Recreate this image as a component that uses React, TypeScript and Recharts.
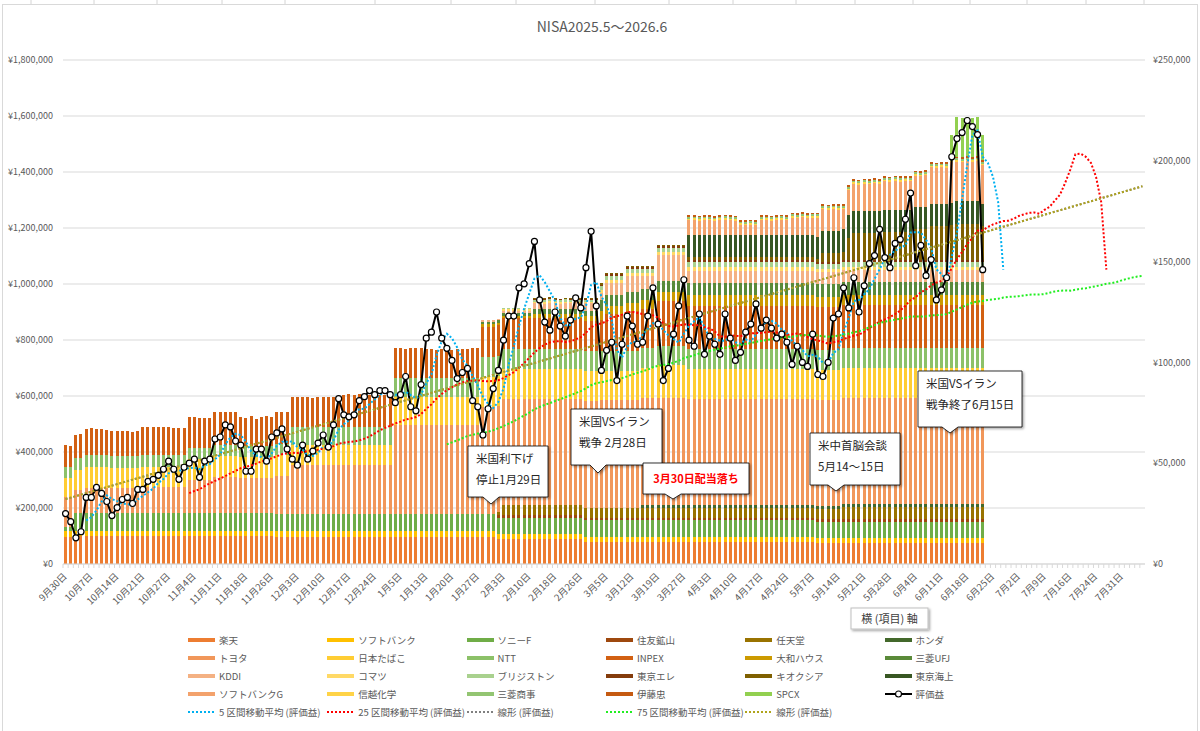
import React from 'react';
import { ComposedChart, Bar, Line, XAxis, YAxis, CartesianGrid } from 'recharts';

const FONT = "'Noto Sans CJK JP', 'Noto Sans', sans-serif";
const GRAY = '#595959';

const TICK_LABELS = [
  '9月30日', '10月7日', '10月14日', '10月21日', '10月27日', '11月4日', '11月11日', '11月18日', '11月26日',
  '12月3日', '12月10日', '12月17日', '12月24日', '1月5日', '1月13日', '1月20日', '1月27日', '2月3日',
  '2月10日', '2月18日', '2月26日', '3月5日', '3月12日', '3月19日', '3月27日', '4月3日', '4月10日',
  '4月17日', '4月24日', '5月7日', '5月14日', '5月21日', '5月28日', '6月4日', '6月11日', '6月18日',
  '6月25日', '7月2日', '7月9日', '7月16日', '7月24日', '7月31日',
];
const CAT_COUNT = TICK_LABELS.length * 5;

// 評価額 (千円) per trading day; series listed from bottom of the stack
const RAKUTEN = [
  97, 97, 99, 99, 99, 99, 99, 99, 99, 99, 99, 99, 99, 99, 99, 99, 99, 99, 99, 99,
  99, 99, 99, 99, 99, 99, 99, 99, 99, 99, 99, 99, 99, 99, 99, 99, 99, 99, 99, 99,
  99, 98, 98, 98, 98, 98, 98, 98, 98, 98, 98, 98, 98, 98, 98, 98, 98, 98, 98, 98,
  98, 98, 98, 98, 98, 98, 98, 98, 98, 98, 98, 98, 98, 98, 98, 98, 98, 98, 98, 98,
  98, 98, 98, 98, 88, 88, 88, 88, 88, 88, 88, 88, 88, 88, 88, 88, 88, 88, 88, 88,
  88, 80, 80, 80, 80, 80, 80, 80, 80, 80, 80, 80, 80, 80, 80, 80, 80, 80, 80, 80,
  80, 80, 80, 80, 80, 80, 80, 80, 80, 80, 80, 80, 80, 80, 80, 80, 80, 80, 80, 80,
  80, 80, 80, 80, 80, 80, 75, 75, 75, 75, 75, 75, 75, 75, 75, 75, 75, 75, 75, 75,
  75, 75, 75, 75, 75, 75, 75, 75, 75, 75, 75, 75, 75, 75, 75, 75, 75, 75, 75,
];
const SOFTBANK = [
  20, 20, 20, 20, 20, 20, 20, 20, 20, 20, 20, 20, 20, 20, 20, 20, 20, 20, 20, 20,
  20, 20, 20, 20, 20, 20, 20, 20, 20, 20, 20, 20, 20, 20, 20, 20, 20, 20, 20, 20,
  20, 20, 20, 20, 20, 20, 20, 20, 20, 20, 20, 20, 20, 20, 20, 20, 20, 20, 20, 20,
  20, 20, 20, 20, 20, 20, 20, 20, 20, 20, 20, 20, 20, 20, 20, 20, 20, 20, 20, 20,
  20, 20, 20, 20, 18, 18, 18, 18, 18, 18, 18, 18, 18, 18, 18, 18, 18, 18, 18, 18,
  18, 18, 18, 18, 18, 18, 18, 18, 18, 18, 18, 18, 18, 18, 18, 18, 18, 18, 18, 18,
  18, 18, 18, 18, 18, 18, 18, 18, 18, 18, 18, 18, 18, 18, 18, 18, 18, 18, 18, 18,
  18, 18, 18, 18, 18, 18, 18, 18, 18, 18, 18, 18, 18, 18, 18, 18, 18, 18, 18, 18,
  18, 18, 18, 18, 18, 18, 18, 18, 18, 18, 18, 18, 18, 18, 18, 18, 18, 18, 18,
];
const SONYF = [
  15, 15, 62, 62, 62, 62, 62, 62, 62, 62, 62, 62, 62, 62, 62, 62, 62, 62, 62, 62,
  62, 62, 62, 62, 62, 62, 62, 62, 62, 62, 62, 62, 62, 62, 62, 62, 62, 62, 62, 62,
  62, 62, 62, 62, 62, 62, 62, 62, 62, 62, 62, 62, 62, 62, 62, 62, 62, 62, 62, 62,
  62, 62, 62, 62, 62, 62, 62, 62, 62, 62, 62, 62, 62, 62, 62, 62, 62, 62, 62, 62,
  62, 62, 62, 62, 58, 58, 58, 58, 58, 58, 58, 58, 58, 58, 58, 58, 58, 58, 58, 58,
  58, 58, 58, 58, 58, 58, 58, 58, 58, 58, 58, 58, 58, 58, 58, 58, 58, 58, 58, 58,
  58, 58, 58, 58, 58, 58, 58, 58, 58, 58, 58, 58, 58, 58, 58, 58, 58, 58, 58, 58,
  58, 58, 58, 58, 58, 58, 58, 58, 58, 58, 58, 58, 58, 58, 58, 58, 58, 58, 58, 58,
  58, 58, 58, 58, 58, 58, 58, 58, 58, 58, 58, 58, 58, 58, 58, 58, 58, 58, 58,
];
// from day 84
const SUMITOMO = [
  10, 10, 10, 10, 10, 10, 10, 10, 10, 10, 10, 10, 10, 10, 10, 10, 10, 10, 10, 10,
  10, 10, 10, 10, 10, 10, 10, 10, 10, 10, 10, 10, 10, 10, 10, 10, 10, 10, 10, 10,
  10, 10, 10, 10, 10, 10, 10, 10, 10, 10, 10, 10, 10, 10, 10, 10, 10, 10, 10, 10,
  10, 10, 10, 10, 10, 10, 10, 10, 10, 10, 10, 10, 10, 10, 10, 10, 10, 10, 10, 10,
  10, 10, 10, 10, 10, 10, 10, 10, 10, 10, 10, 10, 10, 10, 10,
];
// from day 84
const NINTENDO = [
  12, 35, 35, 35, 35, 35, 35, 35, 35, 35, 35, 35, 35, 35, 35, 35, 35, 35, 35, 35,
  35, 35, 35, 35, 35, 35, 35, 35, 35, 35, 35, 35, 35, 35, 35, 35, 35, 35, 35, 35,
  35, 35, 35, 35, 35, 35, 35, 35, 35, 35, 35, 35, 35, 35, 35, 35, 35, 35, 35, 35,
  35, 35, 35, 35, 35, 35, 35, 42, 42, 42, 42, 42, 42, 42, 42, 42, 42, 42, 42, 42,
  42, 42, 42, 42, 42, 42, 42, 42, 42, 42, 42, 42, 42, 42, 42,
];
// from day 112
const HONDA = [
  10, 10, 10, 10, 10, 10, 10, 10, 10, 10, 10, 10, 10, 10, 10, 10, 10, 10, 10, 10,
  10, 10, 10, 10, 10, 10, 10, 10, 10, 10, 10, 10, 10, 10, 10, 10, 10, 10, 10, 10,
  10, 10, 10, 10, 10, 10, 10, 10, 10, 10, 10, 10, 10, 10, 10, 10, 10, 10, 10, 10,
  10, 10, 10, 10, 10, 10, 10,
];
const TOYOTA = [
  108, 108, 84, 84, 92, 92, 92, 92, 92, 90, 90, 90, 90, 90, 90, 95, 95, 95, 95, 95,
  95, 95, 95, 95, 120, 120, 120, 120, 120, 130, 130, 130, 130, 130, 125, 125, 125, 125, 125, 125,
  125, 135, 135, 135, 175, 175, 175, 175, 175, 175, 175, 175, 175, 175, 175, 175, 175, 175, 175, 175,
  175, 175, 175, 175, 318, 318, 318, 318, 318, 318, 318, 318, 318, 318, 318, 318, 318, 318, 318, 318,
  318, 380, 380, 380, 380, 380, 380, 380, 380, 380, 380, 380, 380, 380, 380, 380, 380, 380, 380, 380,
  380, 380, 380, 380, 383, 383, 383, 383, 383, 383, 383, 383, 383, 383, 383, 383, 383, 383, 383, 383,
  383, 380, 380, 380, 380, 380, 380, 380, 380, 380, 380, 380, 380, 380, 380, 380, 380, 380, 380, 380,
  380, 380, 380, 380, 380, 380, 380, 380, 380, 380, 380, 380, 380, 380, 380, 380, 380, 380, 380, 380,
  380, 380, 380, 380, 380, 380, 380, 380, 380, 380, 380, 380, 380, 380, 380, 380, 380, 380, 380,
];
const JT = [
  68, 68, 71, 71, 72, 72, 72, 72, 72, 72, 72, 72, 72, 72, 72, 72, 72, 72, 72, 72,
  72, 72, 72, 72, 75, 75, 75, 75, 75, 75, 75, 75, 75, 75, 75, 75, 75, 75, 75, 75,
  75, 75, 75, 75, 71, 71, 71, 71, 71, 71, 71, 71, 71, 71, 71, 71, 71, 71, 71, 71,
  71, 71, 71, 71, 100, 100, 100, 100, 100, 100, 100, 100, 100, 100, 100, 100, 100, 100, 100, 100,
  100, 107, 107, 107, 107, 107, 107, 107, 107, 107, 107, 107, 107, 107, 107, 107, 107, 107, 107, 107,
  107, 107, 107, 107, 107, 107, 107, 107, 107, 107, 107, 107, 107, 107, 107, 115, 115, 115, 115, 115,
  115, 107, 107, 107, 107, 107, 107, 107, 107, 107, 107, 107, 107, 107, 107, 107, 107, 107, 107, 107,
  107, 107, 107, 107, 107, 107, 107, 107, 107, 107, 107, 107, 107, 107, 107, 107, 107, 107, 107, 107,
  107, 107, 107, 107, 107, 107, 107, 107, 107, 107, 107, 107, 107, 107, 107, 107, 107, 107, 107,
];
const NTT = [
  38, 38, 43, 43, 43, 43, 43, 43, 43, 43, 43, 43, 43, 43, 43, 43, 43, 43, 43, 43,
  43, 43, 43, 43, 40, 40, 40, 40, 40, 40, 40, 40, 40, 40, 40, 40, 40, 40, 40, 40,
  40, 40, 40, 40, 64, 64, 64, 64, 64, 64, 64, 64, 64, 64, 64, 64, 64, 64, 64, 64,
  64, 64, 64, 64, 68, 68, 68, 68, 68, 68, 68, 68, 68, 68, 68, 68, 68, 68, 68, 68,
  68, 71, 71, 71, 71, 71, 71, 71, 71, 71, 71, 71, 71, 71, 71, 71, 71, 71, 71, 71,
  71, 71, 71, 71, 71, 71, 71, 71, 71, 71, 71, 71, 71, 71, 71, 71, 71, 71, 71, 71,
  71, 71, 71, 71, 71, 71, 71, 71, 71, 71, 71, 71, 71, 71, 71, 71, 71, 71, 71, 71,
  71, 71, 71, 71, 71, 71, 71, 71, 71, 71, 71, 71, 71, 71, 71, 71, 71, 71, 71, 71,
  71, 71, 71, 71, 71, 71, 71, 71, 71, 71, 71, 71, 71, 71, 71, 71, 71, 71, 71,
];
const INPEX = [
  79, 76, 82, 84, 94, 96, 93, 95, 92, 89, 88, 90, 89, 87, 90, 97, 98, 99, 98, 97,
  99, 95, 96, 94, 110, 110, 105, 105, 105, 117, 118, 116, 117, 118, 104, 100, 106, 98, 104, 107,
  103, 113, 114, 112, 106, 105, 107, 106, 104, 106, 107, 105, 106, 108, 114, 116, 115, 117, 113, 115,
  116, 114, 115, 117, 104, 105, 103, 106, 104, 105, 103, 101, 100, 102, 101, 100, 102, 101, 103, 104,
  105, 110, 110, 110, 110, 110, 110, 110, 110, 110, 110, 110, 110, 110, 110, 110, 110, 110, 110, 110,
  110, 110, 110, 110, 110, 130, 130, 130, 130, 140, 140, 140, 140, 140, 140, 160, 160, 160, 160, 160,
  160, 154, 154, 154, 154, 154, 154, 154, 154, 154, 154, 154, 154, 154, 154, 154, 154, 154, 154, 154,
  154, 154, 154, 154, 154, 154, 154, 154, 154, 154, 154, 154, 154, 154, 154, 154, 154, 154, 154, 154,
  154, 154, 154, 154, 154, 154, 154, 154, 154, 154, 154, 154, 154, 154, 154, 154, 154, 154, 154,
];
// from day 81
const DAIWA = [
  8, 8, 8, 8, 8, 8, 8, 8, 8, 8, 15, 15, 15, 15, 15, 15, 15, 15, 15, 15,
  15, 15, 15, 30, 30, 30, 30, 30, 30, 30, 30, 30, 30, 30, 30, 30, 30, 30, 30, 30,
  36, 36, 36, 36, 36, 36, 36, 36, 36, 36, 36, 36, 36, 36, 36, 36, 36, 36, 36, 36,
  36, 36, 36, 36, 36, 36, 36, 36, 36, 36, 36, 36, 36, 36, 36, 36, 36, 36, 36, 36,
  36, 36, 36, 36, 36, 36, 36, 36, 36, 36, 36, 36, 36, 36, 36, 36, 36, 36,
];
// from day 81
const MUFG = [
  10, 10, 10, 10, 10, 10, 10, 10, 10, 10, 20, 20, 20, 20, 20, 20, 20, 20, 20, 20,
  20, 20, 20, 40, 40, 40, 40, 40, 40, 40, 40, 40, 40, 40, 40, 40, 40, 40, 40, 40,
  46, 46, 46, 46, 46, 46, 46, 46, 46, 46, 46, 46, 46, 46, 46, 46, 46, 46, 46, 46,
  46, 46, 46, 46, 46, 46, 46, 46, 46, 46, 46, 46, 46, 46, 46, 46, 46, 46, 46, 46,
  46, 46, 46, 46, 46, 46, 46, 46, 46, 46, 46, 46, 46, 46, 46, 46, 46, 46,
];
// from day 81
const KDDI = [
  5, 5, 5, 3, 10, 10, 10, 10, 10, 10, 19, 20, 18, 21, 19, 17, 20, 19, 22, 18,
  27, 27, 27, 25, 43, 43, 43, 43, 58, 58, 58, 48, 48, 48, 95, 95, 95, 95, 95, 95,
  43, 43, 43, 43, 43, 43, 43, 43, 43, 43, 43, 43, 43, 43, 43, 43, 43, 43, 43, 43,
  43, 43, 43, 43, 43, 43, 43, 43, 43, 43, 43, 43, 43, 43, 43, 43, 43, 43, 43, 43,
  43, 43, 43, 43, 43, 43, 43, 43, 43, 43, 43, 43, 43, 43, 43, 43, 43, 43,
];
// from day 85
const KOMATSU = [
  5, 5, 5, 5, 5, 5, 5, 5, 5, 5, 5, 5, 5, 5, 5, 5, 5, 5, 5, 10,
  10, 10, 10, 10, 10, 10, 10, 10, 10, 10, 10, 10, 10, 10, 10, 10, 11, 11, 11, 11,
  11, 11, 11, 11, 11, 11, 11, 11, 11, 11, 11, 11, 11, 11, 11, 11, 11, 11, 11, 11,
  11, 11, 11, 11, 11, 11, 11, 11, 11, 11, 11, 11, 11, 11, 11, 11, 11, 11, 11, 11,
  11, 11, 11, 11, 11, 11, 11, 11, 11, 11, 11, 11, 11, 11,
];
// from day 85
const BRIDGESTONE = [
  5, 5, 5, 5, 5, 5, 8, 8, 8, 8, 8, 8, 8, 8, 8, 8, 8, 8, 8, 15,
  15, 15, 15, 15, 15, 15, 15, 15, 15, 15, 15, 15, 15, 15, 15, 15, 18, 18, 18, 18,
  18, 18, 18, 18, 18, 18, 18, 18, 18, 18, 18, 18, 18, 18, 18, 18, 18, 18, 18, 18,
  18, 18, 18, 18, 18, 18, 18, 18, 18, 18, 18, 18, 18, 18, 18, 18, 18, 18, 18, 18,
  18, 18, 18, 18, 18, 18, 18, 18, 18, 18, 18, 18, 18, 18,
];
// from day 91
const TEL = [
  3, 3, 3, 3, 3, 3, 3, 3, 3, 3, 3, 3, 3, 5, 5, 5, 5, 5, 5, 5,
  5, 5, 5, 5, 5, 5, 5, 5, 5, 5, 7, 7, 7, 7, 7, 7, 7, 7, 7, 7,
  7, 7, 7, 7, 7, 7, 7, 7, 7, 7, 7, 7, 7, 7, 7, 7, 7, 7, 7, 7,
  7, 7, 7, 7, 7, 7, 7, 7, 7, 7, 7, 7, 7, 7, 7, 7, 7, 7, 7, 7,
  7, 7, 7, 7, 7, 7, 7, 7,
];
// from day 91
const KIOXIA = [
  3, 3, 3, 3, 3, 3, 3, 3, 3, 3, 3, 3, 3, 5, 5, 5, 5, 5, 5, 5,
  5, 5, 5, 5, 5, 5, 5, 5, 5, 5, 11, 11, 11, 11, 11, 11, 11, 11, 11, 11,
  11, 11, 11, 11, 11, 11, 11, 11, 11, 11, 11, 11, 11, 11, 11, 11, 30, 30, 30, 30,
  30, 80, 95, 95, 95, 95, 95, 95, 100, 100, 100, 100, 100, 100, 110, 110, 110, 120, 120, 120,
  120, 125, 130, 130, 130, 130, 130, 120,
];
// from day 121
const TOKIO = [
  79, 79, 79, 79, 79, 79, 79, 79, 79, 79, 79, 79, 79, 79, 79, 79, 79, 79, 79, 79,
  79, 79, 79, 79, 79, 79, 79, 79, 79, 79, 79, 79, 79, 79, 79, 79, 79, 79, 79, 79,
  79, 79, 79, 79, 79, 79, 79, 79, 79, 79, 79, 79, 79, 79, 79, 79, 79, 79,
];
// from day 121
const SBG = [
  53, 55, 52, 54, 53, 51, 54, 56, 53, 52, 37, 35, 38, 36, 53, 55, 52, 54, 56, 53,
  63, 61, 64, 62, 63, 68, 79, 77, 80, 78, 72, 90, 97, 95, 98, 96, 99, 97, 102, 100,
  104, 101, 103, 102, 112, 110, 113, 132, 130, 133, 131, 144, 142, 140, 143, 141, 144, 139,
];
// from day 121
const SHINETSU = [
  6, 6, 6, 6, 6, 6, 6, 6, 6, 6, 6, 6, 6, 6, 6, 6, 6, 6, 6, 6,
  6, 6, 6, 6, 6, 6, 6, 6, 6, 6, 6, 6, 6, 6, 6, 6, 6, 6, 6, 6,
  6, 6, 6, 6, 6, 6, 6, 6, 6, 6, 6, 6, 6, 6, 6, 6, 6, 6,
];
const MITSUBISHI = [
  6, 6, 6, 6, 6, 6, 6, 6, 6, 6, 6, 6, 6, 6, 6, 6, 6, 6, 6, 6,
  6, 6, 6, 6, 6, 6, 6, 6, 6, 6, 6, 6, 6, 6, 6, 6, 6, 6, 6, 6,
  6, 6, 6, 6, 6, 6, 6, 6, 6, 6, 6, 6, 6, 6, 6, 6, 6, 6,
];
const ITOCHU = [
  6, 6, 6, 6, 6, 6, 6, 6, 6, 6, 6, 6, 6, 6, 6, 6, 6, 6, 6, 6,
  6, 6, 6, 6, 6, 6, 6, 6, 6, 6, 6, 6, 6, 6, 6, 6, 6, 6, 6, 6,
  6, 6, 6, 6, 6, 6, 6, 6, 6, 6, 6, 6, 6, 6, 6, 6, 6, 6,
];
// from day 172
const SPCX = [80, 140, 140, 140, 140, 140, 90];

// 評価益 (千円), right axis
const HYOUKA = [
  25, 21, 13, 16, 33, 33, 38, 35, 31, 24, 28, 32, 33, 30, 37, 37, 41, 42, 44, 47,
  51, 47, 42, 48, 50, 52, 43, 51, 52, 62, 63, 69, 68, 61, 59, 46, 46, 57, 57, 51,
  63, 65, 67, 57, 52, 49, 59, 52, 56, 60, 64, 58, 69, 82, 74, 73, 74, 81, 83, 86,
  84, 86, 86, 84, 80, 84, 93, 78, 76, 89, 112, 115, 125, 112, 107, 101, 92, 95, 97, 81,
  78, 64, 77, 87, 96, 111, 123, 123, 137, 139, 149, 160, 131, 120, 116, 125, 118, 113, 121, 132,
  127, 147, 165, 128, 96, 106, 110, 91, 109, 123, 118, 109, 110, 123, 137, 119, 91, 97, 114, 128,
  141, 111, 108, 124, 104, 113, 109, 104, 124, 112, 101, 105, 115, 119, 129, 117, 121, 117, 112, 114,
  110, 99, 108, 100, 98, 114, 94, 93, 100, 122, 124, 137, 127, 142, 125, 138, 149, 153, 166, 152,
  147, 159, 161, 171, 184, 148, 158, 143, 151, 131, 136, 142, 202, 211, 214, 220, 217, 213, 146,
];

const STOCKS = [
  { name: '楽天', color: '#ED7D31', from: 0, data: RAKUTEN },
  { name: 'ソフトバンク', color: '#FFC000', from: 0, data: SOFTBANK },
  { name: 'ソニーF', color: '#70AD47', from: 0, data: SONYF },
  { name: '住友鉱山', color: '#9E480E', from: 84, data: SUMITOMO },
  { name: '任天堂', color: '#997300', from: 84, data: NINTENDO },
  { name: 'ホンダ', color: '#43682B', from: 112, data: HONDA },
  { name: 'トヨタ', color: '#F1975A', from: 0, data: TOYOTA },
  { name: '日本たばこ', color: '#FFCD33', from: 0, data: JT },
  { name: 'NTT', color: '#8CC168', from: 0, data: NTT },
  { name: 'INPEX', color: '#D26012', from: 0, data: INPEX },
  { name: '大和ハウス', color: '#CC9A00', from: 81, data: DAIWA },
  { name: '三菱UFJ', color: '#5A8A39', from: 81, data: MUFG },
  { name: 'KDDI', color: '#F4B183', from: 81, data: KDDI },
  { name: 'コマツ', color: '#FFD966', from: 85, data: KOMATSU },
  { name: 'ブリジストン', color: '#A9D18E', from: 85, data: BRIDGESTONE },
  { name: '東京エレ', color: '#843C0C', from: 91, data: TEL },
  { name: 'キオクシア', color: '#7F6000', from: 91, data: KIOXIA },
  { name: '東京海上', color: '#385723', from: 121, data: TOKIO },
  { name: 'ソフトバンクG', color: '#F3A26C', from: 121, data: SBG },
  { name: '信越化学', color: '#FFD347', from: 121, data: SHINETSU },
  { name: '三菱商事', color: '#93C572', from: 121, data: MITSUBISHI },
  { name: '伊藤忠', color: '#C55A11', from: 121, data: ITOCHU },
  { name: 'SPCX', color: '#92D050', from: 172, data: SPCX },
];

const TRENDS = [
  { key: 'ma5', name: '5 区間移動平均 (評価益)', color: '#00B0F0' },
  { key: 'ma25', name: '25 区間移動平均 (評価益)', color: '#FF0000' },
  { key: 'linGray', name: '線形 (評価益)', color: '#808080' },
  { key: 'ma75', name: '75 区間移動平均 (評価益)', color: '#22EE22' },
  { key: 'linOlive', name: '線形 (評価益)', color: '#B0A41C' },
];

// trendlines as Excel derives them from the 評価益 series
const movingAverage = (n: number) =>
  Array.from({ length: CAT_COUNT }, (_, i) => {
    if (i < n - 1) return null;
    let sum = 0;
    let cnt = 0;
    for (let j = i - n + 1; j <= i; j++) {
      if (HYOUKA[j] != null) {
        sum += HYOUKA[j];
        cnt++;
      }
    }
    return cnt ? (sum / cnt) * 1000 : null;
  });

const fit = (() => {
  const n = HYOUKA.length;
  let sx = 0, sy = 0, sxx = 0, sxy = 0;
  HYOUKA.forEach((v, i) => { sx += i; sy += v; sxx += i * i; sxy += i * v; });
  const b = (n * sxy - sx * sy) / (n * sxx - sx * sx);
  return { a: (sy - b * sx) / n, b };
})();

const MA5 = movingAverage(5);
const MA25 = movingAverage(25);
const MA75 = movingAverage(75);

const ROWS = Array.from({ length: CAT_COUNT }, (_, i) => {
  const row: any = { i };
  STOCKS.forEach((s, k) => {
    const v = s.data[i - s.from];
    if (v !== undefined) row['s' + k] = v * 1000;
  });
  row.hy = i < HYOUKA.length ? HYOUKA[i] * 1000 : null;
  row.ma5 = MA5[i];
  row.ma25 = MA25[i];
  row.ma75 = MA75[i];
  row.linGray = (fit.a + fit.b * i) * 1000;
  row.linOlive = row.linGray;
  return row;
});

const CALLOUTS = [
  { x: 468, y: 446, w: 80, h: 51, tip: [491, 504], base: [483, 499], lines: ['米国利下げ', '停止1月29日'] },
  { x: 571, y: 409, w: 91, h: 56, tip: [598, 473], base: [590, 606], lines: ['米国VSイラン', '戦争 2月28日'] },
  { x: 643, y: 463, w: 106, h: 31, tip: [673, 499], base: [665, 681], lines: ['3月30日配当落ち'], red: true },
  { x: 810, y: 433, w: 90, h: 52, tip: [836, 491], base: [828, 844], lines: ['米中首脳会談', '5月14〜15日'] },
  { x: 918, y: 371, w: 104, h: 56, tip: [950, 433], base: [942, 958], lines: ['米国VSイラン', '戦争終了6月15日'] },
];

const yen = (v: number) => '¥' + v.toLocaleString('en-US');

const CategoryTick = (props: any) => {
  const { x, y, payload } = props;
  const idx = payload.value;
  const lx = x + 2;
  const ly = y + 13;
  return (
    <g>
      <line x1={x - 2.58} x2={x - 2.58} y1={y} y2={y + 4} stroke="#D9D9D9" />
      {idx % 5 === 0 && (
        <text x={lx} y={ly} textAnchor="end" fontSize={9.5} fill={GRAY} fontFamily={FONT}
          transform={`rotate(-45 ${lx} ${ly})`}>
          {TICK_LABELS[idx / 5]}
        </text>
      )}
    </g>
  );
};

const LEGEND_ITEMS = [
  ...STOCKS.map((s) => ({ name: s.name, color: s.color, kind: 'bar' })),
  { name: '評価益', color: '#000', kind: 'marker' },
  ...TRENDS.map((t) => ({ name: t.name, color: t.color, kind: 'dot' })),
];

function LegendBlock() {
  return (
    <>
      {LEGEND_ITEMS.map((it, k) => {
        const row = Math.floor(k / 6);
        const col = k % 6;
        return (
          <div key={k} style={{
            position: 'absolute', left: 188 + col * 139.3, top: 633 + row * 18.1, height: 14,
            display: 'flex', alignItems: 'center', whiteSpace: 'nowrap',
            fontFamily: FONT, fontSize: 9.5, color: GRAY,
          }}>
            <svg width={28} height={10}>
              {it.kind === 'bar' && <rect x={0} y={3} width={27} height={4} fill={it.color} />}
              {it.kind === 'dot' && <line x1={0} x2={27} y1={5} y2={5} stroke={it.color} strokeWidth={2} strokeDasharray="2 2" />}
              {it.kind === 'marker' && (
                <>
                  <line x1={0} x2={27} y1={5} y2={5} stroke="#000" strokeWidth={2} />
                  <circle cx={13.5} cy={5} r={3} fill="#fff" stroke="#000" strokeWidth={1.2} />
                </>
              )}
            </svg>
            <span style={{ marginLeft: 3 }}>{it.name}</span>
          </div>
        );
      })}
    </>
  );
}

function Overlay() {
  const sheetCols = [31, 94, 157, 222, 285, 375, 451, 516, 595, 669, 733, 796, 855, 913, 970, 1027, 1086, 1144];
  return (
    <svg width={1200} height={731} style={{ position: 'absolute', left: 0, top: 0, pointerEvents: 'none' }}>
      <defs>
        <filter id="shadow" x="-10%" y="-10%" width="130%" height="140%">
          <feDropShadow dx="1.5" dy="1.5" stdDeviation="1.2" floodColor="#000" floodOpacity="0.35" />
        </filter>
      </defs>
      {sheetCols.map((x) => <line key={x} x1={x} x2={x} y1={0} y2={4} stroke="#D4D4D4" />)}
      <rect x={2.5} y={4.5} width={1195} height={740} fill="none" stroke="#D9D9D9" />
      <text x={602} y={32} textAnchor="middle" fontSize={14} fill={GRAY} fontFamily={FONT}>NISA2025.5～2026.6</text>
      {CALLOUTS.map((c, k) => {
        const d = `M${c.x},${c.y} H${c.x + c.w} V${c.y + c.h} H${c.base[1]} L${c.tip[0]},${c.tip[1]} L${c.base[0]},${c.y + c.h} H${c.x} Z`;
        return (
          <g key={k}>
            <path d={d} fill="#fff" stroke="#000" strokeWidth={0.8} filter="url(#shadow)" />
            {c.red ? (
              <text x={c.x + c.w / 2} y={c.y + c.h / 2 + 4} textAnchor="middle" fontSize={11} fontWeight="bold"
                fill="#FF0000" fontFamily={FONT}>{c.lines[0]}</text>
            ) : (
              c.lines.map((t, j) => (
                <text key={j} x={c.x + 8} y={c.y + 17 + j * 21} fontSize={11.5} fill="#262626" fontFamily={FONT}>{t}</text>
              ))
            )}
          </g>
        );
      })}
      <rect x={851} y={608} width={77} height={21} fill="#fff" stroke="#BFBFBF" filter="url(#shadow)" />
      <text x={889.5} y={622.5} textAnchor="middle" fontSize={11} fill="#404040" fontFamily={FONT}>横 (項目) 軸</text>
    </svg>
  );
}

export default function App() {
  return (
    <div style={{ position: 'relative', width: 1200, height: 731, background: '#fff', overflow: 'hidden' }}>
      <style>{'body{margin:0} .recharts-bar-rectangle path{shape-rendering:crispEdges}'}</style>
      <ComposedChart width={1200} height={731} data={ROWS} barCategoryGap="20%"
        margin={{ top: 60, right: 0, bottom: 137, left: 0 }}>
        <CartesianGrid yAxisId="left" vertical={false} stroke="#D9D9D9" />
        <XAxis dataKey="i" type="category" interval={0} height={30} tickSize={0} tickMargin={0}
          tickLine={false} axisLine={{ stroke: '#D9D9D9' }} tick={<CategoryTick />} />
        <YAxis yAxisId="left" domain={[0, 1800000]} width={63}
          ticks={[0, 200000, 400000, 600000, 800000, 1000000, 1200000, 1400000, 1600000, 1800000]}
          tickFormatter={yen} axisLine={false} tickLine={false} tickSize={0} tickMargin={10}
          tick={{ fontSize: 9, fill: GRAY, fontFamily: FONT }} />
        <YAxis yAxisId="right" orientation="right" domain={[0, 250000]} width={55}
          ticks={[0, 50000, 100000, 150000, 200000, 250000]}
          tickFormatter={yen} axisLine={false} tickLine={false} tickSize={0} tickMargin={8}
          tick={{ fontSize: 9, fill: GRAY, fontFamily: FONT }} />
        {STOCKS.map((s, k) => (
          <Bar key={s.name} dataKey={'s' + k} name={s.name} stackId="a" yAxisId="left"
            fill={s.color} isAnimationActive={false} />
        ))}
        <Line yAxisId="right" dataKey="hy" name="評価益" stroke="#000" strokeWidth={2}
          dot={{ r: 3, fill: '#fff', stroke: '#000', strokeWidth: 1.2 }} activeDot={false}
          isAnimationActive={false} />
        {TRENDS.map((t) => (
          <Line key={t.key} yAxisId="right" dataKey={t.key} name={t.name} stroke={t.color}
            strokeWidth={2} strokeDasharray="2 2" dot={false} activeDot={false}
            isAnimationActive={false} />
        ))}
      </ComposedChart>
      <Overlay />
      <LegendBlock />
    </div>
  );
}
